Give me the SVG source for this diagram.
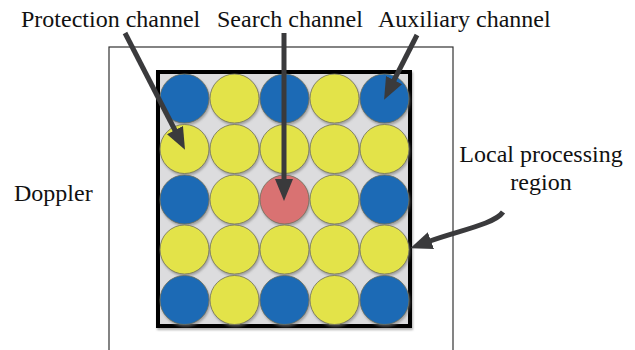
<svg xmlns="http://www.w3.org/2000/svg" width="635" height="350" viewBox="0 0 635 350">
  <style>
    .lbl { font-family: "Liberation Serif", "Times New Roman", serif; font-size: 24px; fill: #111; }
    .b { fill: #1a6bb5; }
    .y { fill: #e3e34a; }
    .r { fill: #d97272; }
    .cell { stroke: #6e6e5a; stroke-width: 0.8; filter: url(#sh); }
    .arr { fill: none; stroke: #3a3a3c; stroke-width: 5; marker-end: url(#head); }
  </style>
  <defs>
    <filter id="sh" x="-20%" y="-20%" width="140%" height="150%">
      <feDropShadow dx="1" dy="2" stdDeviation="1" flood-color="#7a7a7a" flood-opacity="0.6"/>
    </filter>
    <marker id="head" markerUnits="userSpaceOnUse" viewBox="0 0 22 18" refX="1" refY="9" markerWidth="22" markerHeight="18" orient="auto">
      <path d="M0,0 L22,9 L0,18 z" fill="#3a3a3c"/>
    </marker>
  </defs>
  <rect width="635" height="350" fill="#fff"/>

  <!-- Doppler frame -->
  <rect id="frame" x="109" y="47" width="344" height="330" fill="none" stroke="#333" stroke-width="1.2"/>

  <!-- local processing region -->
  <g id="region">
    <rect x="158" y="72" width="252" height="254" fill="#dcdcde" stroke="#000" stroke-width="4" filter="url(#sh)"/>
  </g>

  <!-- channel grid -->
  <g id="grid">
    <g id="r1">
      <circle class="cell b" cx="184.5" cy="98.5" r="24.5"/>
      <circle class="cell y" cx="234.5" cy="98.5" r="24.5"/>
      <circle class="cell b" cx="284.5" cy="98.5" r="24.5"/>
      <circle class="cell y" cx="334.5" cy="98.5" r="24.5"/>
      <circle class="cell b" cx="384.5" cy="98.5" r="24.5"/>
    </g>
    <g id="r2">
      <circle class="cell y" cx="184.5" cy="149" r="24.5"/>
      <circle class="cell y" cx="234.5" cy="149" r="24.5"/>
      <circle class="cell y" cx="284.5" cy="149" r="24.5"/>
      <circle class="cell y" cx="334.5" cy="149" r="24.5"/>
      <circle class="cell y" cx="384.5" cy="149" r="24.5"/>
    </g>
    <g id="r3">
      <circle class="cell b" cx="184.5" cy="199.5" r="24.5"/>
      <circle class="cell y" cx="234.5" cy="199.5" r="24.5"/>
      <circle class="cell r" cx="284.5" cy="199.5" r="24.5"/>
      <circle class="cell y" cx="334.5" cy="199.5" r="24.5"/>
      <circle class="cell b" cx="384.5" cy="199.5" r="24.5"/>
    </g>
    <g id="r4">
      <circle class="cell y" cx="184.5" cy="249.5" r="24.5"/>
      <circle class="cell y" cx="234.5" cy="249.5" r="24.5"/>
      <circle class="cell y" cx="284.5" cy="249.5" r="24.5"/>
      <circle class="cell y" cx="334.5" cy="249.5" r="24.5"/>
      <circle class="cell y" cx="384.5" cy="249.5" r="24.5"/>
    </g>
    <g id="r5">
      <circle class="cell b" cx="184.5" cy="300" r="24.5"/>
      <circle class="cell y" cx="234.5" cy="300" r="24.5"/>
      <circle class="cell b" cx="284.5" cy="300" r="24.5"/>
      <circle class="cell y" cx="334.5" cy="300" r="24.5"/>
      <circle class="cell b" cx="384.5" cy="300" r="24.5"/>
    </g>
  </g>

  <!-- labels -->
  <g id="protection"><text class="lbl" x="21" y="27">Protection channel</text></g>
  <g id="search"><text class="lbl" x="217" y="27">Search channel</text></g>
  <g id="auxiliary"><text class="lbl" x="378" y="27">Auxiliary channel</text></g>
  <g id="local">
    <text class="lbl" x="541" y="162" text-anchor="middle">Local processing</text>
    <text class="lbl" x="541" y="190" text-anchor="middle">region</text>
  </g>
  <g id="doppler"><text class="lbl" x="14" y="201">Doppler</text></g>

  <!-- connectors -->
  <g id="connectors">
    <path class="arr" d="M125,33 L175.4,131"/>
    <path class="arr" d="M284,33 L284,180"/>
    <path class="arr" d="M417,35 L393.6,81"/>
    <path class="arr" d="M503,212 C495,224 457,231 430,241"/>
  </g>
</svg>
